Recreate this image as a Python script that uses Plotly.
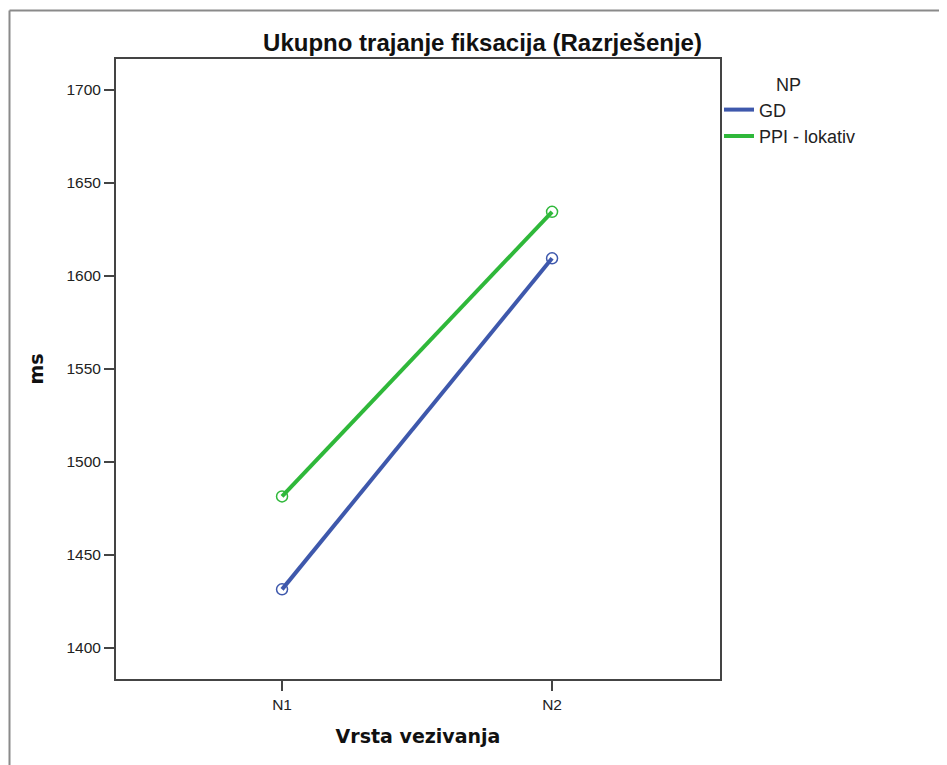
import plotly.graph_objects as go

categories = ["N1", "N2"]
gd_values = [1431.5, 1609.5]
ppi_values = [1481.5, 1634.5]
series_names = ["GD", "PPI - lokativ"]
series_colors = ["#3e58ac", "#2fb83a"]
y_ticks = [1400, 1450, 1500, 1550, 1600, 1650, 1700]

# page has an 8px body margin, so the figure is drawn 8px smaller
W, H = 939, 757
L, R, T, B = 108, 712, 51, 671

fig = go.Figure()
for name, vals, col in zip(series_names, [gd_values, ppi_values], series_colors):
    fig.add_trace(go.Scatter(
        x=categories, y=vals, name=name, mode="lines+markers", showlegend=False,
        line=dict(color=col, width=4),
        marker=dict(symbol="circle-open", size=11, color=col, line=dict(width=1.5)),
    ))
# legend entries (line only, as in the reference)
for name, col in zip(series_names, series_colors):
    fig.add_trace(go.Scatter(
        x=[None], y=[None], name=name, mode="lines", showlegend=True,
        line=dict(color=col, width=4),
    ))

def px(x):
    return (x - L) / (R - L)

def py(y):
    return (B - y) / (B - T)

# outer frame (gray border on left and top)
fig.add_shape(type="line", xref="paper", yref="paper", x0=px(1.5), x1=px(W), y0=py(2.5), y1=py(2.5),
              line=dict(color="#8a8a8a", width=2))
fig.add_shape(type="line", xref="paper", yref="paper", x0=px(1.5), x1=px(1.5), y0=py(2.5), y1=py(H),
              line=dict(color="#8a8a8a", width=2))

fig.update_layout(
    width=W, height=H,
    margin=dict(l=L, r=W - R, t=T, b=H - B),
    paper_bgcolor="white", plot_bgcolor="white",
    font=dict(family="Liberation Sans, Arial, sans-serif", size=15.5, color="#222"),
    title=dict(text="<b>Ukupno trajanje fiksacija (Razrješenje)</b>", x=474.5 / W, xanchor="center",
               y=1 - 35 / H, yanchor="middle", font=dict(size=24, color="#111")),
    showlegend=True,
    legend=dict(x=px(711), y=py(60), xanchor="left", yanchor="top",
                title=dict(text="           NP", font=dict(size=18)),
                font=dict(size=18, color="#222"), itemwidth=30, tracegroupgap=0,
                bgcolor="rgba(0,0,0,0)"),
    xaxis=dict(range=[-0.615, 1.622], showline=True, linecolor="#444", linewidth=2, mirror=True,
               ticks="outside", ticklen=10, tickcolor="#444", tickwidth=2,
               showgrid=False, zeroline=False,
               title=dict(text="<b>Vrsta vezivanja</b>",
                          font=dict(family="DejaVu Sans, sans-serif", size=19, color="#111"), standoff=18),
               tickfont=dict(size=15.5)),
    yaxis=dict(range=[1383.3, 1716.7], tickvals=y_ticks, showline=True, linecolor="#444", linewidth=2,
               mirror=True, ticks="outside", ticklen=10, tickcolor="#444", tickwidth=2,
               showgrid=False, zeroline=False,
               title=dict(text="<b>ms</b>",
                          font=dict(family="DejaVu Sans, sans-serif", size=19, color="#111"), standoff=18),
               tickfont=dict(size=15.5)),
)

fig.write_html("out.html")
